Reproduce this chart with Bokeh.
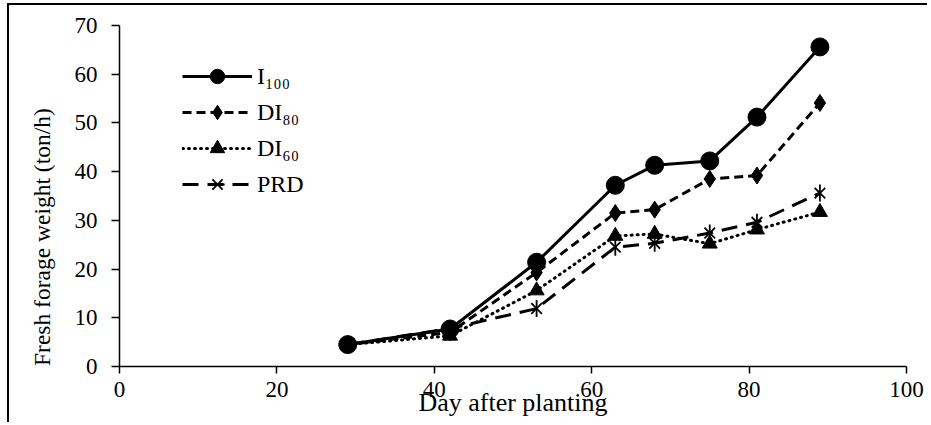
from bokeh.plotting import figure
from bokeh.models import FixedTicker, Range1d, Legend, LegendItem
from bokeh.embed import file_html
from bokeh.resources import INLINE

days = [29, 42, 53, 63, 68, 75, 81, 89]
i100 = [4.5, 7.7, 21.4, 37.2, 41.3, 42.2, 51.2, 65.6]
di80 = [4.5, 7.0, 19.3, 31.5, 32.2, 38.5, 39.2, 54.1]
di60 = [4.5, 6.3, 15.6, 26.8, 27.2, 25.2, 28.1, 31.7]
prd = [4.5, 7.8, 11.9, 24.5, 25.3, 27.4, 29.6, 35.6]
labels = ["I\u2081\u2080\u2080", "DI\u2088\u2080", "DI\u2086\u2080", "PRD"]
x_ticks = [0, 20, 40, 60, 80, 100]
y_ticks = [0, 10, 20, 30, 40, 50, 60, 70]
x_title = "Day after planting"
y_title = "Fresh forage weight (ton/h)"

FONT = "Liberation Serif"

p = figure(width=920, height=419, output_backend="svg", toolbar_location=None,
           x_range=Range1d(0, 100), y_range=Range1d(0, 70),
           min_border_left=110, min_border_right=23, min_border_top=20, min_border_bottom=58)
p.styles = {"border-top": "2px solid black", "border-left": "2px solid black",
            "margin-left": "7px", "margin-top": "3px"}
p.outline_line_color = None
p.xgrid.visible = False
p.ygrid.visible = False
p.background_fill_color = "white"

for ax in (p.xaxis[0], p.yaxis[0]):
    ax.axis_line_color = "black"
    ax.axis_line_width = 1.5
    ax.major_tick_line_color = "black"
    ax.major_tick_line_width = 1.5
    ax.major_tick_in = 0
    ax.minor_tick_line_color = None
    ax.major_label_text_font = FONT
    ax.major_label_text_font_size = "23px"
    ax.major_label_text_color = "black"
    ax.axis_label_text_font = FONT
    ax.axis_label_text_font_style = "normal"
    ax.axis_label_text_color = "black"

p.xaxis.ticker = FixedTicker(ticks=x_ticks)
p.yaxis.ticker = FixedTicker(ticks=y_ticks)
p.xaxis.major_tick_out = 7
p.yaxis.major_tick_out = 8
p.xaxis.major_label_standoff = 8
p.yaxis.major_label_standoff = 14
p.xaxis.axis_label = x_title
p.xaxis.axis_label_text_font_size = "26px"
p.xaxis.axis_label_standoff = -12
# trailing non-breaking spaces move the visible title lower, as in the reference
p.yaxis.axis_label = y_title + "\u00a0" * 14
p.yaxis.axis_label_text_font_size = "23.5px"
p.yaxis.axis_label_standoff = 17

r1l = p.line(days, i100, line_color="black", line_width=3)
r1m = p.scatter(days, i100, marker="circle", size=18, fill_color="black", line_color="black")

r2l = p.line(days, di80, line_color="black", line_width=3, line_dash="9 5")
r2m = p.scatter(days, di80, marker="diamond", size=17, fill_color="black", line_color="black")

r3l = p.line(days, di60, line_color="black", line_width=3, line_dash="1 5", line_cap="round")
r3m = p.scatter(days, di60, marker="triangle", size=15, fill_color="black", line_color="black")

r4l = p.line(days, prd, line_color="black", line_width=3, line_dash="16 9")
r4m = p.scatter(days, prd, marker="x", size=15, line_color="black", line_width=1.8)
r4v = p.scatter(days, prd, marker="dash", angle=1.5708, size=17, line_color="black", line_width=1.8)

legend = Legend(items=[
    LegendItem(label=labels[0], renderers=[r1l, r1m]),
    LegendItem(label=labels[1], renderers=[r2l, r2m]),
    LegendItem(label=labels[2], renderers=[r3l, r3m]),
    LegendItem(label=labels[3], renderers=[r4l, r4m, r4v]),
], location=(63, 164))
legend.glyph_width = 70
legend.glyph_height = 36
legend.label_height = 20
legend.spacing = 0
legend.padding = 0
legend.margin = 0
legend.label_standoff = 5
legend.border_line_color = None
legend.background_fill_alpha = 0
legend.label_text_font = FONT
legend.label_text_font_size = "24px"
legend.label_text_color = "black"
p.add_layout(legend, "center")

open("out.html", "w").write(file_html(p, INLINE))
